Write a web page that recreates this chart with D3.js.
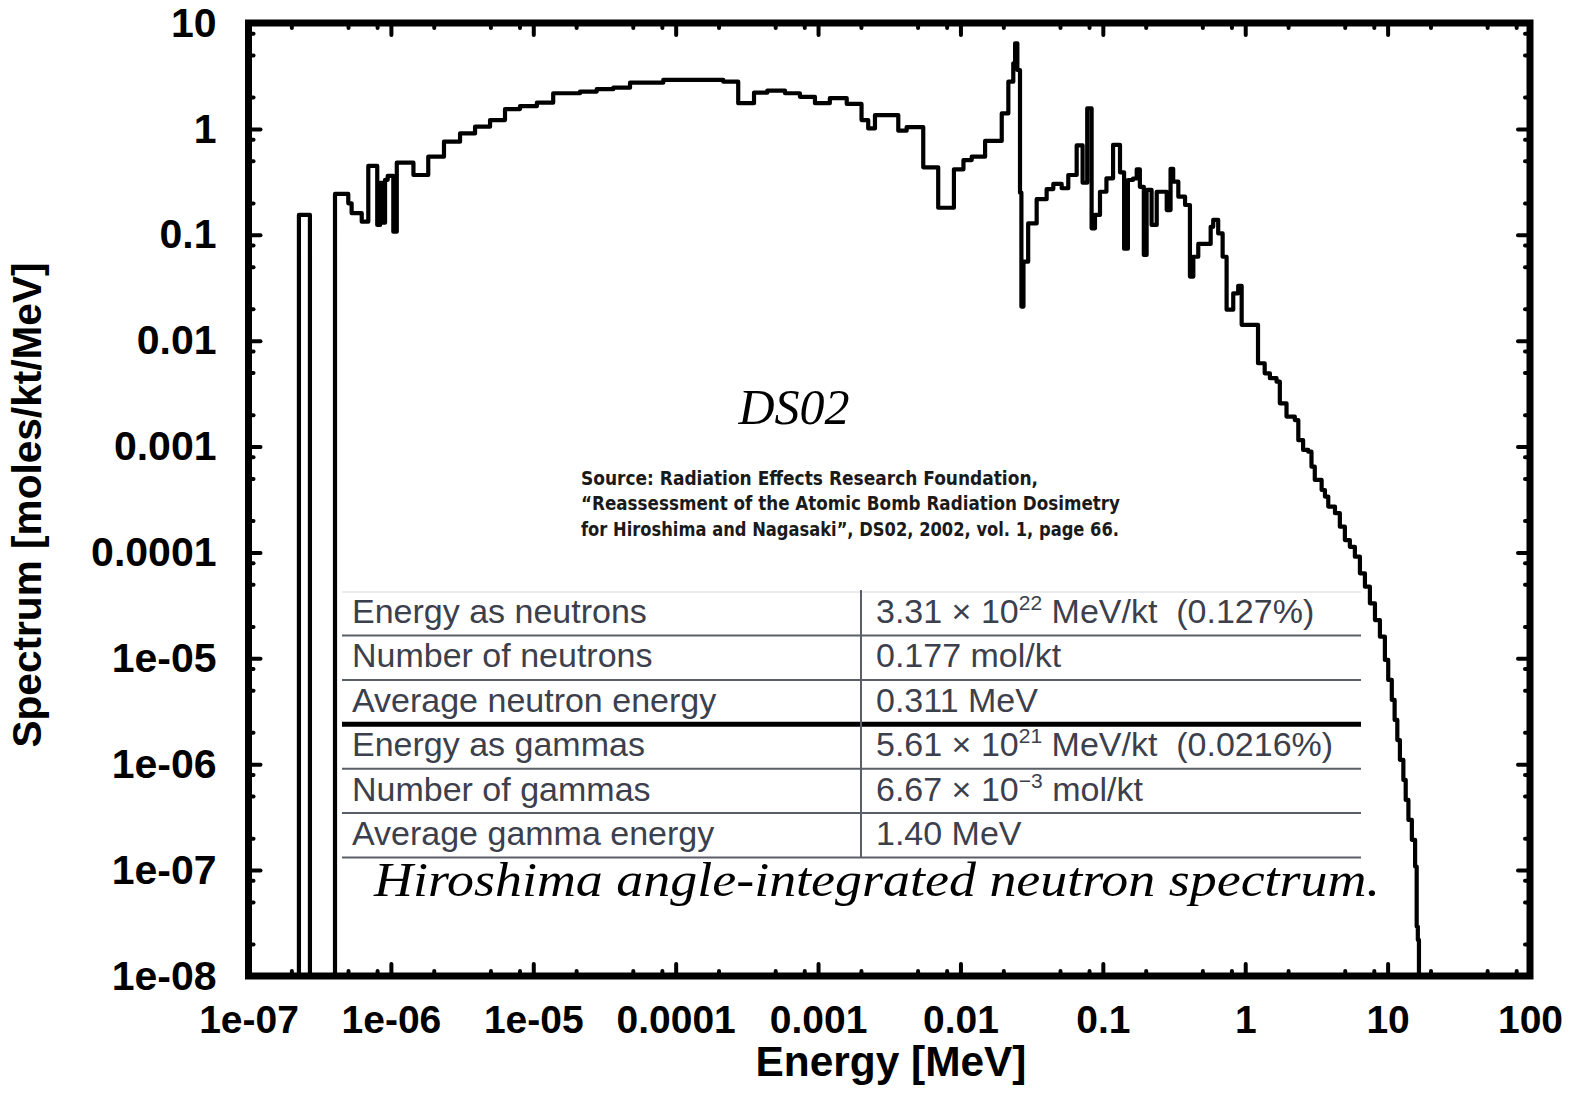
<!DOCTYPE html>
<html><head><meta charset="utf-8">
<script src="https://cdn.jsdelivr.net/npm/d3@7"></script>
<style>
html,body{margin:0;padding:0;background:#fff;}
svg{display:block;}
</style></head><body>
<svg id="chart" width="1575" height="1094"></svg>
<script>
// ---- data ----
// left edge of each energy bin [MeV]
const energyLow = [
  2.26e-7, 2.70e-7, 4.05e-7, 5.02e-7, 5.30e-7, 6.24e-7, 6.94e-7, 8.02e-7,
  8.40e-7, 8.80e-7, 9.10e-7, 9.50e-7, 1.04e-6, 1.10e-6, 1.44e-6, 1.83e-6,
  2.36e-6, 3.06e-6, 3.90e-6, 4.97e-6, 6.33e-6, 8.07e-6, 1.06e-5, 1.38e-5,
  2.13e-5, 2.79e-5, 3.65e-5, 4.78e-5, 8.18e-5, 2.16e-4, 2.75e-4, 3.55e-4,
  4.40e-4, 5.86e-4, 7.46e-4, 9.51e-4, 1.21e-3, 1.59e-3, 2.02e-3, 2.25e-3,
  2.51e-3, 3.66e-3, 4.19e-3, 5.48e-3, 6.98e-3, 9.0e-3, 1.05e-2, 1.20e-2,
  1.49e-2, 1.95e-2, 2.17e-2, 2.35e-2, 2.42e-2, 2.51e-2, 2.62e-2, 2.68e-2,
  2.77e-2, 2.99e-2, 3.43e-2, 4.03e-2, 4.49e-2, 5.14e-2, 5.72e-2, 6.55e-2,
  7.21e-2, 7.77e-2, 8.34e-2, 8.81e-2, 9.55e-2, 0.106, 0.118, 0.132,
  0.141, 0.150, 0.163, 0.173, 0.182, 0.194, 0.203, 0.220,
  0.239, 0.281, 0.299, 0.312, 0.339, 0.378, 0.409, 0.432,
  0.468, 0.572, 0.596, 0.646, 0.694, 0.740, 0.824, 0.893,
  0.944, 1.23, 1.37, 1.49, 1.66, 1.75, 1.95, 2.23,
  2.36, 2.55, 2.77, 2.92, 3.08, 3.44, 3.63, 3.83,
  4.27, 4.62, 5.01, 5.43, 5.89, 6.39, 6.93, 7.51,
  8.15, 8.83, 9.57, 10.1, 10.7, 11.2, 11.7, 12.2,
  12.9, 13.4, 14.0, 14.8, 15.6, 16.0, 16.3
];
const energyMax = 16.6;
// spectrum value in each bin [moles/kt/MeV] (1e-9 = below the axis)
const spectrum = [
  0.154, 1e-9, 0.243, 0.198, 0.16, 0.133, 0.447, 0.124,
  0.31, 0.13, 0.33, 0.36, 0.107, 0.48, 0.367, 0.547,
  0.757, 0.907, 1.05, 1.21, 1.54, 1.64, 1.77, 2.17,
  2.25, 2.37, 2.45, 2.73, 2.90, 2.79, 1.75, 2.20,
  2.30, 2.17, 2.01, 1.75, 1.95, 1.72, 1.21, 1.01,
  1.35, 0.962, 1.04, 0.434, 0.180, 0.415, 0.508, 0.547,
  0.769, 1.40, 2.79, 4.16, 6.43, 3.6, 0.25, 0.021,
  0.0557, 0.128, 0.217, 0.27, 0.302, 0.275, 0.367, 0.70,
  0.31, 1.56, 0.115, 0.154, 0.255, 0.341, 0.705, 0.389,
  0.074, 0.329, 0.34, 0.415, 0.284, 0.0644, 0.265, 0.124,
  0.255, 0.171, 0.42, 0.317, 0.229, 0.191, 0.0403, 0.062,
  0.0819, 0.119, 0.138, 0.103, 0.062, 0.0196, 0.028, 0.033,
  0.0141, 6.12e-3, 4.92e-3, 4.42e-3, 4.10e-3, 2.56e-3, 1.92e-3, 1.78e-3,
  1.15e-3, 9.29e-4, 8.95e-4, 6.46e-4, 4.84e-4, 3.89e-4, 3.37e-4, 2.71e-4,
  2.35e-4, 1.75e-4, 1.31e-4, 1.13e-4, 9.12e-5, 6.35e-5, 4.75e-5, 3.31e-5,
  2.30e-5, 1.60e-5, 9.66e-6, 6.25e-6, 4.05e-6, 2.62e-6, 1.69e-6, 1.10e-6,
  7.11e-7, 4.60e-7, 2.98e-7, 1.93e-7, 1.08e-7, 2.93e-8, 2.19e-8
];
const xTickValues = [1e-7, 1e-6, 1e-5, 1e-4, 1e-3, 1e-2, 1e-1, 1, 10, 100];
const xTickLabels = ["1e-07","1e-06","1e-05","0.0001","0.001","0.01","0.1","1","10","100"];
const yTickValues = [1e-8, 1e-7, 1e-6, 1e-5, 1e-4, 1e-3, 1e-2, 1e-1, 1, 10];
const yTickLabels = ["1e-08","1e-07","1e-06","1e-05","0.0001","0.001","0.01","0.1","1","10"];
const minorMultipliers = [2, 5, 8];
const xAxisTitle = "Energy [MeV]";
const yAxisTitle = "Spectrum [moles/kt/MeV]";
const labelText = "DS02";
const sourceLines = [
  "Source: Radiation Effects Research Foundation,",
  "\u201CReassessment of the Atomic Bomb Radiation Dosimetry",
  "for Hiroshima and Nagasaki\u201D, DS02, 2002, vol. 1, page 66."
];
const tableLabels = ["Energy as neutrons","Number of neutrons","Average neutron energy",
                     "Energy as gammas","Number of gammas","Average gamma energy"];
const tableValues = [
  ["3.31 \u00D7 10","22"," MeV/kt\u00A0\u00A0(0.127%)"],
  ["0.177 mol/kt"],
  ["0.311 MeV"],
  ["5.61 \u00D7 10","21"," MeV/kt\u00A0\u00A0(0.0216%)"],
  ["6.67 \u00D7 10","\u22123"," mol/kt"],
  ["1.40 MeV"]
];
const captionText = "Hiroshima angle-integrated neutron spectrum.";

// ---- layout ----
const W = 1575, H = 1094;
const plot = {left: 248.5, right: 1530, top: 23, bottom: 976};
const x = d3.scaleLog().domain([1e-7, 100]).range([plot.left, plot.right]);
const y = d3.scaleLog().domain([1e-8, 10]).range([plot.bottom, plot.top]);

const svg = d3.select('#chart');
svg.append('rect').attr('width', W).attr('height', H).attr('fill', '#fff');

svg.append('defs').append('clipPath').attr('id', 'clip')
  .append('rect').attr('x', plot.left).attr('y', plot.top)
  .attr('width', plot.right - plot.left).attr('height', plot.bottom - plot.top);

// ---- table & annotations ----
const tbl = svg.append('g');
const tLeft = 342, tRight = 1361, tDiv = 861;
const rowBase = d3.range(tableLabels.length).map(i => 623 + i * 44.4);
tbl.append('line').attr('x1', tLeft).attr('x2', tRight).attr('y1', 592).attr('y2', 592)
  .attr('stroke', '#e4e4e4').attr('stroke-width', 1.5);
rowBase.forEach((b, i) => {
  tbl.append('line').attr('x1', tLeft).attr('x2', tRight)
    .attr('y1', b + 12.5).attr('y2', b + 12.5)
    .attr('stroke', i === 2 ? '#000' : '#5a5e66')
    .attr('stroke-width', i === 2 ? 5 : 2);
});
tbl.append('line').attr('x1', tDiv).attr('x2', tDiv).attr('y1', 590).attr('y2', rowBase[5] + 13)
  .attr('stroke', '#5a5e66').attr('stroke-width', 2);
tbl.selectAll('text.lab').data(tableLabels).enter().append('text')
  .attr('class', 'lab').attr('x', 352).attr('y', (d, i) => rowBase[i])
  .attr('font-family', 'Liberation Sans, Arial, sans-serif').attr('font-size', 34)
  .attr('fill', '#3c404c').text(d => d);
tableValues.forEach((parts, i) => {
  const t = tbl.append('text').attr('x', 876).attr('y', rowBase[i])
    .attr('font-family', 'Liberation Sans, Arial, sans-serif').attr('font-size', 34)
    .attr('fill', '#3c404c');
  t.append('tspan').text(parts[0]);
  if (parts.length > 1) {
    t.append('tspan').attr('font-size', 21).attr('dy', -13).text(parts[1]);
    t.append('tspan').attr('dy', 13).text(parts[2]);
  }
});

svg.append('text').attr('x', 794).attr('y', 424).attr('text-anchor', 'middle')
  .attr('font-family', 'Liberation Serif, Times New Roman, serif').attr('font-style', 'italic')
  .attr('font-size', 50).attr('fill', '#000').text(labelText);

sourceLines.forEach((s, i) => {
  svg.append('text').attr('x', 581).attr('y', 485 + i * 25.3)
    .attr('font-family', 'Liberation Sans Narrow, DejaVu Sans Condensed, Arial, sans-serif')
    .attr('font-weight', 'bold').attr('font-size', 19).attr('fill', '#1a1a1a')
    .attr('textLength', [457, 539, 538][i]).attr('lengthAdjust', 'spacingAndGlyphs')
    .text(s);
});

svg.append('text').attr('x', 374).attr('y', 896)
  .attr('font-family', 'Liberation Serif, Times New Roman, serif').attr('font-style', 'italic')
  .attr('font-size', 49).attr('fill', '#000')
  .attr('textLength', 1006).attr('lengthAdjust', 'spacingAndGlyphs')
  .text(captionText);

// ---- spectrum (step histogram) ----
const floorVal = 1e-9;
const pts = [[energyLow[0], floorVal]];
energyLow.forEach((e, i) => {
  const e2 = i < energyLow.length - 1 ? energyLow[i + 1] : energyMax;
  pts.push([e, spectrum[i]]);
  pts.push([e2, spectrum[i]]);
});
pts.push([energyMax, floorVal]);
const line = d3.line().x(d => x(d[0])).y(d => y(d[1]));
svg.append('path').attr('clip-path', 'url(#clip)').datum(pts).attr('d', line)
  .attr('fill', 'none').attr('stroke', '#000').attr('stroke-width', 4.2)
  .attr('stroke-linejoin', 'round').attr('stroke-linecap', 'round');

// ---- axes ----
const decadesX = xTickValues.slice(0, -1);
const decadesY = yTickValues.slice(0, -1);
const xMinor = decadesX.flatMap(d => minorMultipliers.map(m => d * m));
const yMinor = decadesY.flatMap(d => minorMultipliers.map(m => d * m));

function styleAxis(g, fs) {
  g.select('.domain').remove();
  g.selectAll('.tick line').attr('stroke', '#000').attr('stroke-width', 4).attr('stroke-linecap', 'round');
  g.selectAll('.tick text').attr('fill', '#000')
    .attr('font-family', 'Liberation Sans, Arial, Helvetica, sans-serif')
    .attr('font-weight', 'bold').attr('font-size', fs || 41);
}
const gx = svg.append('g').attr('transform', `translate(0,${plot.bottom})`)
  .call(d3.axisBottom(x).tickValues(xTickValues).tickFormat((d, i) => xTickLabels[i])
    .tickSizeInner(-12).tickSizeOuter(0).tickPadding(29));
styleAxis(gx, 39);
const gy = svg.append('g').attr('transform', `translate(${plot.left},0)`)
  .call(d3.axisLeft(y).tickValues(yTickValues).tickFormat((d, i) => yTickLabels[i])
    .tickSizeInner(-12).tickSizeOuter(0).tickPadding(32));
styleAxis(gy, 41);
const gt = svg.append('g').attr('transform', `translate(0,${plot.top})`)
  .call(d3.axisTop(x).tickValues(xTickValues).tickFormat('').tickSizeInner(-12).tickSizeOuter(0));
styleAxis(gt);
const gr = svg.append('g').attr('transform', `translate(${plot.right},0)`)
  .call(d3.axisRight(y).tickValues(yTickValues).tickFormat('').tickSizeInner(-12).tickSizeOuter(0));
styleAxis(gr);
[[d3.axisBottom(x), plot.bottom, 'h', xMinor], [d3.axisTop(x), plot.top, 'h', xMinor],
 [d3.axisLeft(y), plot.left, 'v', yMinor], [d3.axisRight(y), plot.right, 'v', yMinor]]
  .forEach(([ax, pos, dir, vals]) => {
    const g = svg.append('g')
      .attr('transform', dir === 'h' ? `translate(0,${pos})` : `translate(${pos},0)`)
      .call(ax.tickValues(vals).tickFormat('').tickSizeInner(-5).tickSizeOuter(0));
    styleAxis(g);
  });

// frame
svg.append('rect').attr('x', plot.left).attr('y', plot.top)
  .attr('width', plot.right - plot.left).attr('height', plot.bottom - plot.top)
  .attr('fill', 'none').attr('stroke', '#000').attr('stroke-width', 7);

// axis titles
svg.append('text').attr('x', 891).attr('y', 1076).attr('text-anchor', 'middle')
  .attr('font-family', 'Liberation Sans, Arial, Helvetica, sans-serif')
  .attr('font-weight', 'bold').attr('font-size', 42).attr('fill', '#000')
  .attr('textLength', 271).attr('lengthAdjust', 'spacingAndGlyphs').text(xAxisTitle);
svg.append('text').attr('transform', 'translate(41,505) rotate(-90)').attr('text-anchor', 'middle')
  .attr('font-family', 'Liberation Sans, Arial, Helvetica, sans-serif')
  .attr('font-weight', 'bold').attr('font-size', 40).attr('fill', '#000')
  .attr('textLength', 485).attr('lengthAdjust', 'spacingAndGlyphs').text(yAxisTitle);
</script>
</body></html>
